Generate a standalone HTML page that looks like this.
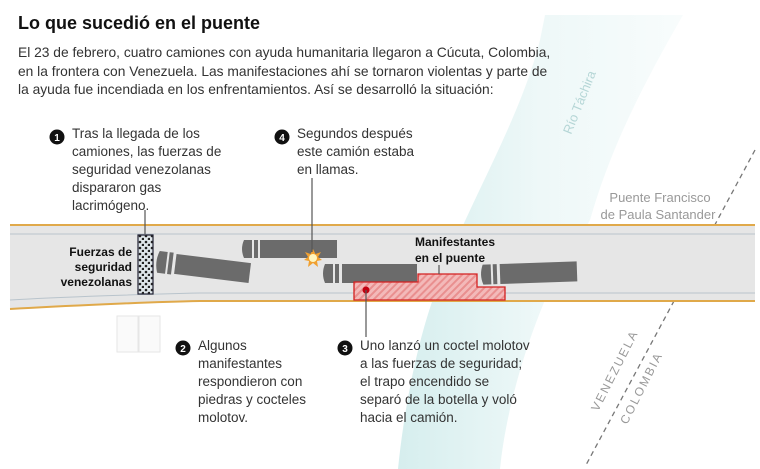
<!DOCTYPE html>
<html><head><meta charset="utf-8"><style>
html,body{margin:0;padding:0;background:#fff;}
svg{display:block;font-family:"Liberation Sans",sans-serif;}
</style></head><body>
<svg width="760" height="469" viewBox="0 0 760 469">
<defs>
<linearGradient id="rv" x1="0" x2="1" y1="0" y2="0">
<stop offset="0" stop-color="#d6eeee"/><stop offset="0.5" stop-color="#eef8f8"/><stop offset="1" stop-color="#f8fcfc"/>
</linearGradient>
<pattern id="hatch" width="5" height="5" patternUnits="userSpaceOnUse" patternTransform="rotate(45)">
<rect width="5" height="5" fill="#f3b9b9"/><rect width="2" height="5" fill="#e98f8f"/>
</pattern>
<pattern id="dots" width="6" height="6" patternUnits="userSpaceOnUse">
<rect width="6" height="6" fill="#dfe6ea"/><circle cx="2" cy="2" r="1.3" fill="#222"/><circle cx="5" cy="5" r="1.3" fill="#222"/>
</pattern>
</defs>
<!-- river -->
<path d="M545,15 L683,15 C640,90 610,150 590,220 L545,300 C520,360 505,420 500,469 L398,469 C405,400 420,330 440,280 C470,200 520,120 540,40 Z" fill="url(#rv)"/>
<text x="0" y="0" transform="translate(571,135) rotate(-68)" font-size="13" fill="#b5d6d6">Río Táchira</text>
<!-- border -->
<line x1="755" y1="150" x2="586" y2="465" stroke="#777" stroke-width="1.3" stroke-dasharray="5,4"/>
<!-- title -->
<text x="18" y="29" font-size="18" font-weight="bold" fill="#111">Lo que sucedió en el puente</text>
<g font-size="13.8" fill="#333">
<text x="18" y="57">El 23 de febrero, cuatro camiones con ayuda humanitaria llegaron a Cúcuta, Colombia,</text>
<text x="18" y="76">en la frontera con Venezuela. Las manifestaciones ahí se tornaron violentas y parte de</text>
<text x="18" y="94">la ayuda fue incendiada en los enfrentamientos. Así se desarrolló la situación:</text>
</g>
<!-- road -->
<path d="M10,225 L755,225 L755,301 L200,301 C150,302 60,306 10,309 Z" fill="#e6e6e6"/>
<line x1="10" y1="225" x2="755" y2="225" stroke="#e0a94a" stroke-width="2"/>
<path d="M10,309 C60,306 150,302 200,301 L755,301" fill="none" stroke="#e0a94a" stroke-width="2"/>
<line x1="10" y1="234" x2="755" y2="234" stroke="#b9c4cc" stroke-width="1"/>
<path d="M10,300 C60,297 150,294 200,293 L755,293" fill="none" stroke="#b9c4cc" stroke-width="1"/>
<!-- puente label -->
<g font-size="13" fill="#999" text-anchor="middle">
<text x="660" y="202">Puente Francisco</text>
<text x="658" y="219">de Paula Santander</text>
</g>
<!-- police -->
<rect x="138" y="235" width="15" height="59" fill="url(#dots)" stroke="#223" stroke-width="1.2"/>
<g font-size="12" font-weight="bold" fill="#111" text-anchor="end">
<text x="132" y="256">Fuerzas de</text>
<text x="132" y="271">seguridad</text>
<text x="132" y="286">venezolanas</text>
</g>
<!-- trucks -->
<g fill="#6b6b6b">
<g transform="rotate(7 200 268)">
<path d="M158,256 h8 v22 h-8 q-4,-11 0,-22z"/><rect x="168" y="256" width="4" height="22"/><rect x="175" y="257" width="75" height="20"/>
</g>
<path d="M244,240 h8 v18 h-8 q-4,-9 0,-18z"/><rect x="254" y="240" width="4" height="18"/><rect x="260" y="240" width="77" height="18"/>
<path d="M325,264 h8 v19 h-8 q-4,-9.5 0,-19z"/><rect x="335" y="264" width="4" height="19"/><rect x="342" y="264" width="75" height="19"/>
<g transform="rotate(-2 530 273)">
<path d="M483,263 h8 v20 h-8 q-4,-10 0,-20z"/><rect x="493" y="263" width="4" height="20"/><rect x="500" y="263" width="77" height="20"/>
</g>
</g>
<!-- burst -->
<g transform="translate(313,258)">
<polygon points="0,-9 2.5,-4 8,-6 5,-1 9,2 4,3 5,9 0,5 -5,9 -4,3 -9,2 -5,-1 -8,-6 -2.5,-4" fill="#f0a030"/>
<circle r="4" fill="#fff6c0"/>
</g>
<!-- red area -->
<polygon points="354,282 418,282 418,274 477,274 477,287 505,287 505,300 354,300" fill="url(#hatch)" stroke="#d42020" stroke-width="1.3"/>
<circle cx="366" cy="290" r="3.5" fill="#c40010"/>
<line x1="366" y1="290" x2="366" y2="337" stroke="#555" stroke-width="1.2"/>
<g font-size="12" font-weight="bold" fill="#111">
<text x="415" y="246">Manifestantes</text>
<text x="415" y="262">en el puente</text>
</g>
<line x1="439" y1="265" x2="439" y2="274" stroke="#555" stroke-width="1.2"/>
<!-- leaders -->
<line x1="145" y1="210" x2="145" y2="234" stroke="#555" stroke-width="1.2"/>
<line x1="312" y1="178" x2="312" y2="252" stroke="#555" stroke-width="1.2"/>
<!-- white small rects -->
<rect x="117" y="316" width="21" height="36" fill="#fafafa" stroke="#e6e6e6"/>
<rect x="139" y="316" width="21" height="36" fill="#fafafa" stroke="#e6e6e6"/>
<!-- numbered -->
<g font-size="10" font-weight="bold" fill="#fff" text-anchor="middle">
<circle cx="57" cy="137" r="7.5" fill="#111"/><text x="57" y="141">1</text>
<circle cx="282" cy="137" r="7.5" fill="#111"/><text x="282" y="141">4</text>
<circle cx="183" cy="348" r="7.5" fill="#111"/><text x="183" y="352">2</text>
<circle cx="345" cy="348" r="7.5" fill="#111"/><text x="345" y="352">3</text>
</g>
<g font-size="13.5" fill="#333">
<text x="72" y="138">Tras la llegada de los</text>
<text x="72" y="156">camiones, las fuerzas de</text>
<text x="72" y="174">seguridad venezolanas</text>
<text x="72" y="192">dispararon gas</text>
<text x="72" y="210">lacrimógeno.</text>
<text x="297" y="138">Segundos después</text>
<text x="297" y="156">este camión estaba</text>
<text x="297" y="174">en llamas.</text>
<text x="198" y="350">Algunos</text>
<text x="198" y="368">manifestantes</text>
<text x="198" y="386">respondieron con</text>
<text x="198" y="404">piedras y cocteles</text>
<text x="198" y="422">molotov.</text>
<text x="360" y="350">Uno lanzó un coctel molotov</text>
<text x="360" y="368">a las fuerzas de seguridad;</text>
<text x="360" y="386">el trapo encendido se</text>
<text x="360" y="404">separó de la botella y voló</text>
<text x="360" y="422">hacia el camión.</text>
</g>
<g font-size="12" fill="#999" letter-spacing="2">
<text transform="translate(598,412) rotate(-63)">VENEZUELA</text>
<text transform="translate(627,425) rotate(-63)">COLOMBIA</text>
</g>
</svg>
</body></html>
